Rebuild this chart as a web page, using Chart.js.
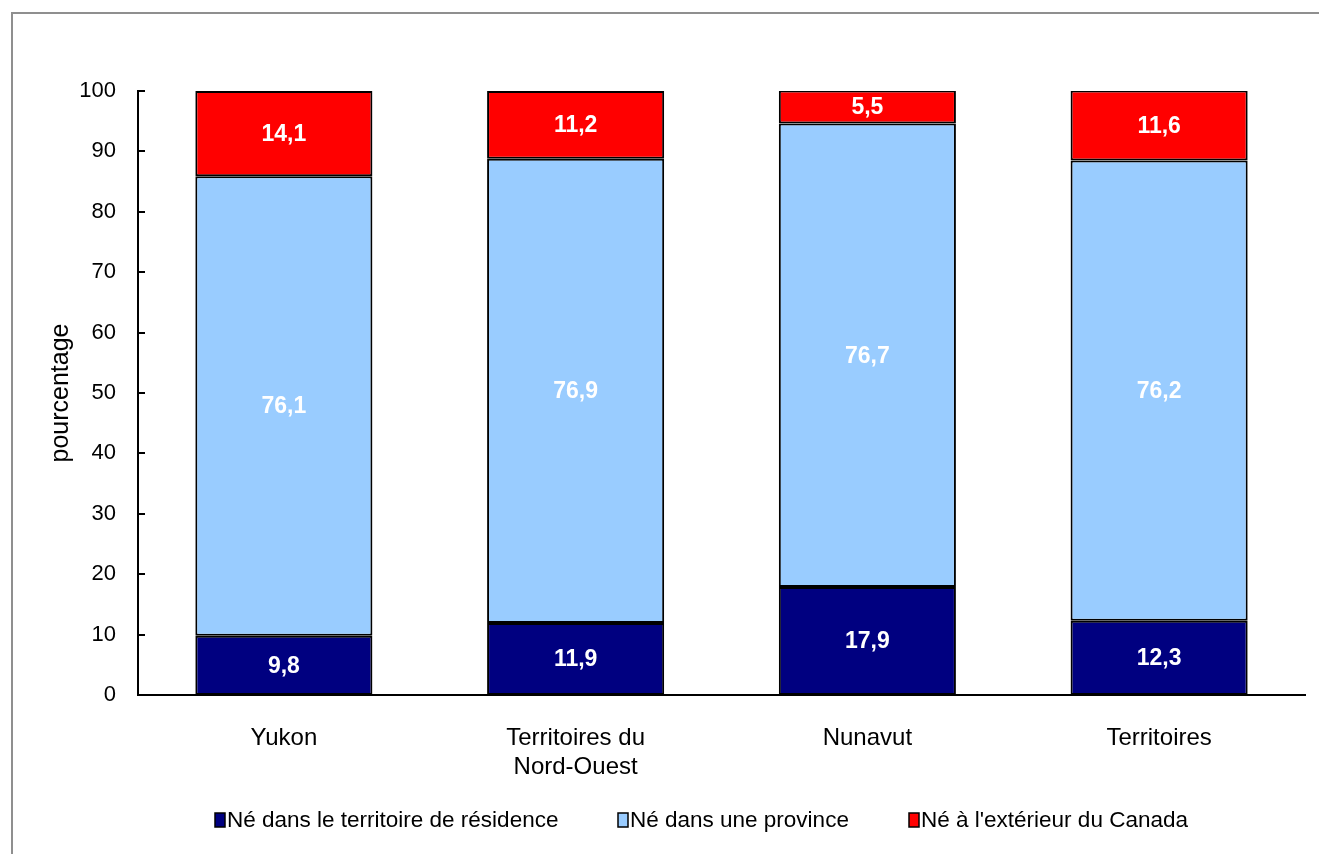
<!DOCTYPE html>
<html>
<head>
<meta charset="utf-8">
<script src="https://cdn.jsdelivr.net/npm/chart.js@4"></script>
<style>
  body { margin: 0; background: #fff; }
  canvas { display: block; }
</style>
</head>
<body>
<canvas id="context" width="1319" height="854"></canvas>
<script>
const categories = ['Yukon', ['Territoires du', 'Nord-Ouest'], 'Nunavut', 'Territoires'];
const seriesNames = ['Né dans le territoire de résidence', 'Né dans une province', "Né à l'extérieur du Canada"];
const seriesColors = ['#000080', '#99CCFF', '#FF0000'];
const bornTerritory = [9.8, 11.9, 17.9, 12.3];
const bornProvince = [76.1, 76.9, 76.7, 76.2];
const bornAbroad = [14.1, 11.2, 5.5, 11.6];
const yTicks = [0, 10, 20, 30, 40, 50, 60, 70, 80, 90, 100];

const font = "'Liberation Sans', Arial, sans-serif";

// gray frame around the figure (only top and left edges fall inside the canvas)
const framePlugin = {
  id: 'frame',
  beforeDraw(chart) {
    const c = chart.ctx;
    c.save();
    c.strokeStyle = '#8f8f8f';
    c.lineWidth = 2;
    c.beginPath();
    c.moveTo(12, chart.height);
    c.lineTo(12, 13);
    c.lineTo(chart.width, 13);
    c.stroke();
    c.restore();
  }
};

// short tick marks pointing into the plot area
const innerTicks = {
  id: 'innerTicks',
  afterDraw(chart) {
    const c = chart.ctx, y = chart.scales.y, left = chart.chartArea.left;
    c.save();
    c.strokeStyle = '#000';
    c.lineWidth = 2;
    yTicks.forEach(v => {
      const py = Math.round(y.getPixelForValue(v));
      c.beginPath();
      c.moveTo(left, py);
      c.lineTo(left + 7, py);
      c.stroke();
    });
    c.restore();
  }
};

// values written in the middle of each segment
const valueLabels = {
  id: 'valueLabels',
  afterDatasetsDraw(chart) {
    const c = chart.ctx;
    c.save();
    c.fillStyle = '#fff';
    c.font = 'bold 23px ' + font;
    c.textAlign = 'center';
    c.textBaseline = 'middle';
    chart.data.datasets.forEach((ds, i) => {
      chart.getDatasetMeta(i).data.forEach((bar, j) => {
        const txt = ds.data[j].toFixed(1).replace('.', ',');
        c.fillText(txt, bar.x, (bar.y + bar.base) / 2 + 1);
      });
    });
    c.restore();
  }
};

// legend row under the category labels, small boxes tight against the text
const bottomLegend = {
  id: 'bottomLegend',
  afterDraw(chart) {
    const c = chart.ctx;
    c.save();
    c.font = '22.5px ' + font;
    c.textBaseline = 'middle';
    const boxW = 10, boxH = 14, textOff = 12, gap = 60, cy = 820;
    const widths = chart.data.datasets.map(ds => c.measureText(ds.label).width);
    const total = widths.reduce((s, w) => s + textOff + w, 0) + gap * (widths.length - 1);
    let x = Math.round(702 - total / 2);
    chart.data.datasets.forEach((ds, i) => {
      c.fillStyle = ds.backgroundColor;
      c.fillRect(x, cy - boxH / 2, boxW, boxH);
      c.strokeStyle = '#000';
      c.lineWidth = 1.5;
      c.strokeRect(x, cy - boxH / 2, boxW, boxH);
      c.fillStyle = '#000';
      c.fillText(ds.label, x + textOff, cy + 1);
      x = Math.round(x + textOff + widths[i] + gap);
    });
    c.restore();
  }
};

const ctx = document.getElementById('context');
new Chart(ctx, {
  type: 'bar',
  data: {
    labels: categories,
    datasets: [bornTerritory, bornProvince, bornAbroad].map((values, i) => ({
      label: seriesNames[i],
      data: values,
      backgroundColor: seriesColors[i],
      borderColor: '#000',
      borderWidth: 2,
      borderSkipped: false,
      categoryPercentage: 1,
      barPercentage: 0.607
    }))
  },
  options: {
    responsive: false,
    animation: false,
    layout: { padding: { top: 91, right: 14, bottom: 0, left: 0 } },
    plugins: {
      tooltip: { enabled: false },
      legend: { display: false }
    },
    scales: {
      x: {
        stacked: true,
        afterFit(scale) { scale.height = 159; },
        grid: { display: false, drawTicks: false },
        border: { color: '#000', width: 2 },
        ticks: { color: '#000', font: { family: font, size: 24 }, padding: 29, maxRotation: 0 }
      },
      y: {
        stacked: true,
        min: 0,
        max: 100,
        afterBuildTicks(scale) { scale.ticks = yTicks.map(v => ({ value: v })); },
        afterFit(scale) { scale.width = 138; },
        grid: { display: false, drawTicks: false },
        border: { color: '#000', width: 2 },
        ticks: { color: '#000', font: { family: font, size: 22 }, padding: 22 },
        title: {
          display: true,
          text: 'pourcentage',
          color: '#000',
          font: { family: font, size: 25 },
          padding: { top: 46 }
        }
      }
    }
  },
  plugins: [framePlugin, innerTicks, valueLabels, bottomLegend]
});
</script>
</body>
</html>
